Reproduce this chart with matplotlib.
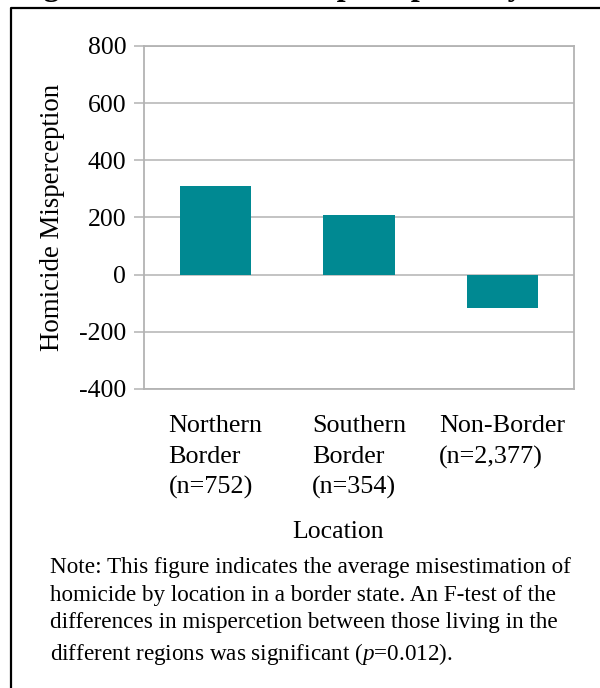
import matplotlib.pyplot as plt
from matplotlib.lines import Line2D

# data
locations = ["Northern\nBorder\n(n=752)", "Southern\nBorder\n(n=354)", "Non-Border\n(n=2,377)"]
misperception = [311, 210, -115]
yticks = [-400, -200, 0, 200, 400, 600, 800]

title = "Figure 2. Homicide Misperception by Location"
note = ("Note: This figure indicates the average misestimation of\n"
        "homicide by location in a border state. An F-test of the\n"
        "differences in mispercetion between those living in the\n"
        "different regions was significant ($\\mathit{p}$=0.012).")

plt.rcParams['font.family'] = ['Liberation Serif', 'DejaVu Serif']
plt.rcParams['mathtext.fontset'] = 'custom'
plt.rcParams['mathtext.it'] = 'Liberation Serif:italic'
plt.rcParams['mathtext.rm'] = 'Liberation Serif'

W, H = 600, 688
fig = plt.figure(figsize=(W / 100, H / 100), dpi=100)

# plot area in pixel coords
left, right, top, bottom = 144, 574, 46, 389
ax = fig.add_axes([left / W, 1 - bottom / H, (right - left) / W, (bottom - top) / H])

grey = '#b3b3b3'
x = range(len(locations))
ax.bar(x, misperception, width=0.5, color='#008992', zorder=3)
ax.set_xlim(-0.5, len(locations) - 0.5)
ax.set_ylim(-400, 800)
ax.set_yticks(yticks)
ax.set_yticklabels([str(v) for v in yticks])
ax.set_xticks(list(x))
ax.set_xticklabels(locations, multialignment='left', linespacing=1.48)
ax.grid(axis='y', color=grey, linewidth=1.1, zorder=0)
for s in ax.spines.values():
    s.set_color(grey)
    s.set_linewidth(1.3)
ax.tick_params(axis='y', direction='out', length=7.2, width=1.1, color=grey,
               pad=5.5, labelsize=18.5)
ax.tick_params(axis='x', length=0, pad=19, labelsize=18.8)
ax.set_ylabel("Homicide Misperception", fontsize=19.4, labelpad=10)

fig.text(338 / W, 1 - 532 / H, "Location", ha='center', va='center', fontsize=18.5)
fig.text(50 / W, 1 - 557 / H, note, ha='left', va='top', fontsize=16.7, linespacing=1.42)

# cut-off title and frame
fig.text(15 / W, 1 + 5 / H, title, ha='left', va='baseline', fontsize=23, fontweight='bold')
fig.add_artist(Line2D([11 / W, 11 / W, 1.0], [0, 1 - 8 / H, 1 - 8 / H],
                      transform=fig.transFigure, color='black', linewidth=1.6))

fig.savefig("out.png", dpi=100)
